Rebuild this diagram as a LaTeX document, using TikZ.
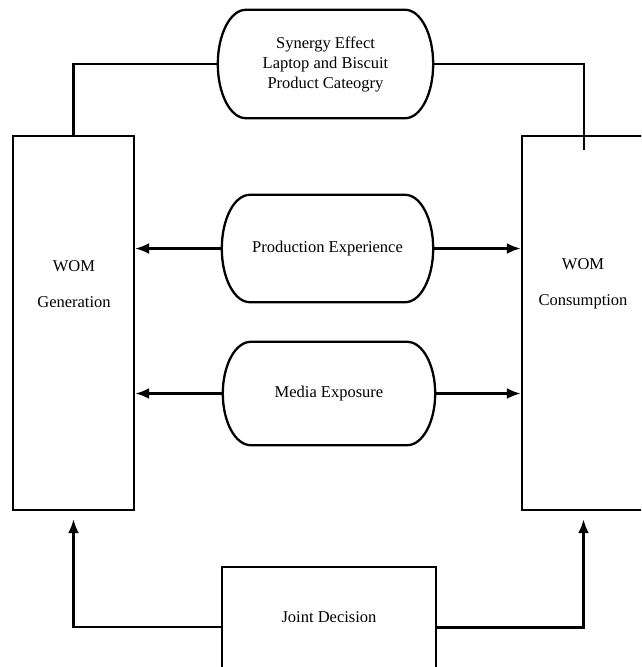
\documentclass[tikz,border=0pt]{standalone}
\usepackage{fontspec}
\setmainfont{Liberation Serif}
\usetikzlibrary{calc,arrows.meta}
\newcommand{\pilldraw}[3]{%
  \draw[pillline] ($(#1.north west)+(#2,0)$) -- ($(#1.north east)+(-#2,0)$)
    .. controls ($(#1.north east)+(-0.448*#2,0)$) and ($(#1.east)+(0,-0.552*#3)$) .. (#1.east)
    .. controls ($(#1.east)+(0,0.552*#3)$) and ($(#1.south east)+(-0.448*#2,0)$) .. ($(#1.south east)+(-#2,0)$)
    -- ($(#1.south west)+(#2,0)$)
    .. controls ($(#1.south west)+(0.448*#2,0)$) and ($(#1.west)+(0,0.552*#3)$) .. (#1.west)
    .. controls ($(#1.west)+(0,-0.552*#3)$) and ($(#1.north west)+(0.448*#2,0)$) .. ($(#1.north west)+(#2,0)$)
    -- cycle;}
\begin{document}
\begin{tikzpicture}[x=1pt,y=-1pt,
  box/.style={draw, line width=2.3pt, rectangle, inner sep=0pt},
  pill/.style={rectangle, inner sep=0pt, align=center, font=\fontsize{16.5}{20}\selectfont},
  pillline/.style={line width=2.3pt},
  lbl/.style={align=center, font=\fontsize{16.5}{20}\selectfont, inner sep=0pt},
  conn/.style={line width=2.3pt},
  arr/.style={line width=2.3pt, -{Latex[length=14pt,width=11pt]}},
  heavy/.style={line width=3pt}]
\useasboundingbox (0,0) rectangle (641,667);
\clip (0,0) rectangle (641,667);
\node[box, minimum width=121, minimum height=374] (gen) at (73.5,323) {};
\node[box, minimum width=123, minimum height=374] (con) at (583.5,323) {};
\node[box, minimum width=214, minimum height=120] (jd) at (329,627) {};
\node[pill, minimum width=215, minimum height=108] (syn) at (325.5,64) {Synergy Effect\\Laptop and Biscuit\\Product Cateogry};
\node[pill, minimum width=211, minimum height=107] (pe) at (327.5,248.5) {Production Experience};
\node[pill, minimum width=212, minimum height=103] (me) at (329,393.5) {Media Exposure};
\pilldraw{syn}{28}{54}
\pilldraw{pe}{28}{53.5}
\pilldraw{me}{28}{51.5}
\node[lbl] (gent) at (74,284) {WOM\\[16pt]Generation};
\node[lbl] (cont) at (583,284) {WOM\\[16pt]Consumption};
\node[lbl] (jdt) at (329,617) {Joint Decision};
\coordinate (tr) at (584,150);
\draw[conn] (syn.west) -| (gen.north);
\draw[conn] (syn.east) -| (tr);
\draw[arr] (pe.west) -- (pe.west -| gen.east);
\draw[arr, heavy] (pe.east) -- (pe.east -| con.west);
\draw[arr, heavy] (me.west) -- (me.west -| gen.east);
\draw[arr, heavy] (me.east) -- (me.east -| con.west);
\draw[arr] (jd.west) -| ([yshift=-8pt]gen.south);
\draw[arr, heavy] (jd.east) -| ([yshift=-8pt]con.south);
\end{tikzpicture}
\end{document}
